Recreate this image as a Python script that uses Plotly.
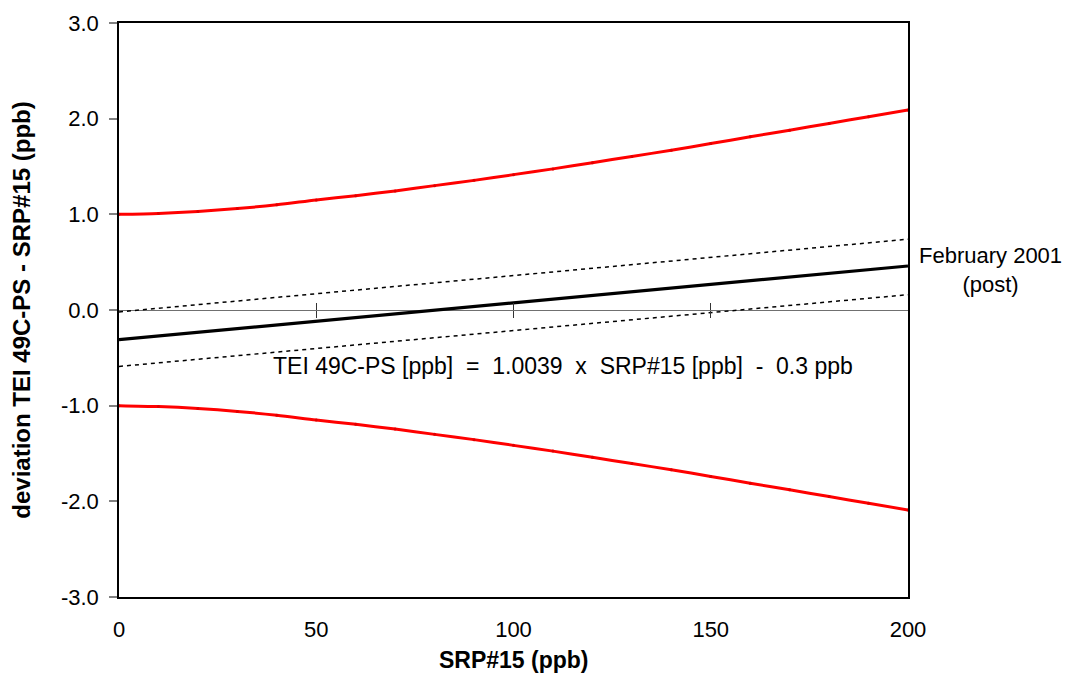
import plotly.graph_objects as go

# Data
x_curve = [0, 10, 20, 30, 40, 50, 60, 70, 80, 90, 100,
           110, 120, 130, 140, 150, 160, 170, 180, 190, 200]
upper_limit = [1.00, 1.01, 1.03, 1.06, 1.10, 1.15, 1.195, 1.245, 1.30, 1.355, 1.415,
               1.475, 1.54, 1.605, 1.67, 1.74, 1.81, 1.88, 1.95, 2.02, 2.09]
lower_limit = [-v for v in upper_limit]

x_line = [0, 200]
regression = [-0.31, 0.46]
conf_upper = [-0.02, 0.74]
conf_lower = [-0.59, 0.16]

zero_ticks = [50, 100, 150]
x_ticks = [0, 50, 100, 150, 200]
y_ticks = [-3, -2, -1, 0, 1, 2, 3]
y_tick_text = ["-3.0", "-2.0", "-1.0", "0.0", "1.0", "2.0", "3.0"]

FONT = "Liberation Sans, Arial, sans-serif"

fig = go.Figure()

for lim in (upper_limit, lower_limit):
    fig.add_trace(go.Scatter(x=x_curve, y=lim, mode="lines+markers",
                             line=dict(color="#ff0000", width=3, shape="spline", smoothing=0.8),
                             marker=dict(color="#e00000", size=3), showlegend=False))
for conf in (conf_upper, conf_lower):
    fig.add_trace(go.Scatter(x=x_line, y=conf, mode="lines",
                             line=dict(color="black", width=1.5, dash="4px,4px"),
                             showlegend=False))
fig.add_trace(go.Scatter(x=x_line, y=regression, mode="lines",
                         line=dict(color="black", width=3.2), showlegend=False))

# invisible traces to carry the zero-line tick axes
fig.add_trace(go.Scatter(x=[0, 200], y=[0, 0], mode="lines", xaxis="x2",
                         line=dict(width=0), hoverinfo="skip", showlegend=False))
fig.add_trace(go.Scatter(x=[0, 200], y=[0, 0], mode="lines", xaxis="x3",
                         line=dict(width=0), hoverinfo="skip", showlegend=False))

fig.add_annotation(x=1.0, xref="paper", xanchor="left", xshift=9,
                   y=0.42, yref="y", text="February 2001<br>(post)",
                   showarrow=False, align="center",
                   font=dict(family=FONT, size=22, color="black"))
fig.add_annotation(x=0.563, xref="paper", y=-0.59, yref="y",
                   text="TEI 49C-PS [ppb]  =  1.0039  x  SRP#15 [ppb]  -  0.3 ppb",
                   showarrow=False, xanchor="center",
                   font=dict(family=FONT, size=23, color="black"))
# x-axis title
fig.add_annotation(x=0.5, xref="paper", y=0, yref="paper", yshift=-63,
                   xanchor="center", yanchor="middle", showarrow=False,
                   text="<b>SRP#15 (ppb)</b>",
                   font=dict(family=FONT, size=23, color="black"))

fig.update_layout(
    width=1058, height=665,
    margin=dict(l=111, r=158, t=15, b=76),
    paper_bgcolor="white", plot_bgcolor="white",
    font=dict(family=FONT, size=22, color="black"),
    xaxis=dict(range=[0, 200], tickvals=x_ticks, showgrid=False, zeroline=False,
               showline=True, linecolor="black", linewidth=1.5, mirror=True,
               ticks="", tickfont=dict(size=22), ticklabelstandoff=12,
               automargin=False),
    xaxis2=dict(range=[0, 200], overlaying="x", anchor="free", position=0.5,
                tickvals=zero_ticks, ticks="outside", ticklen=7, tickcolor="#333",
                tickwidth=1, showticklabels=False, showgrid=False, zeroline=False,
                showline=False),
    xaxis3=dict(range=[0, 200], overlaying="x", anchor="free", position=0.5,
                side="top",
                tickvals=zero_ticks, ticks="outside", ticklen=7, tickcolor="#333",
                tickwidth=1, showticklabels=False, showgrid=False, zeroline=False,
                showline=False),
    yaxis=dict(range=[-3, 3], tickvals=y_ticks, ticktext=y_tick_text,
               showgrid=False, zeroline=True, zerolinecolor="#707070", zerolinewidth=1.3,
               showline=True, linecolor="black", linewidth=1.5, mirror=True,
               ticks="outside", ticklen=8, tickcolor="#808080", tickwidth=1.5,
               tickfont=dict(size=22), ticklabelstandoff=6, automargin=False,
               title=dict(text="<b>deviation TEI 49C-PS - SRP#15 (ppb)</b>",
                          font=dict(size=24), standoff=24)),
)

fig.write_html("out.html")
